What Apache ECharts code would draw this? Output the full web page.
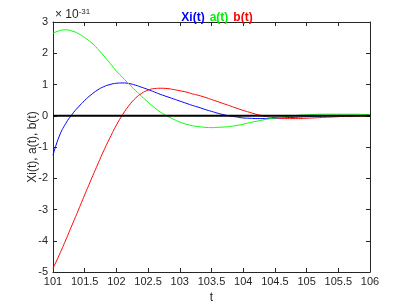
<!DOCTYPE html>
<html><head><meta charset="utf-8">
<script src="https://cdn.jsdelivr.net/npm/echarts@6/dist/echarts.min.js"></script>
<style>html,body{margin:0;padding:0;background:#fff}#c{width:409px;height:306px}</style>
</head><body><div id="c"></div>
<script>
// Data (values in units of 1e-31)
const tValues = [101.0,101.1,101.2,101.3,101.4,101.5,101.6,101.7,101.8,101.9,
  102.0,102.1,102.2,102.3,102.4,102.5,102.6,102.7,102.8,102.9,
  103.0,103.1,103.2,103.3,103.4,103.5,103.6,103.7,103.8,103.9,
  104.0,104.1,104.2,104.3,104.4,104.5,104.6,104.7,104.8,104.9,
  105.0,105.1,105.2,105.3,105.4,105.5,105.6,105.7,105.8,105.9,106.0];
const xiValues = [-1.26,-0.65,-0.25,0.04,0.28,0.49,0.67,0.82,0.93,1.00,
  1.04,1.05,1.03,0.98,0.91,0.84,0.76,0.68,0.61,0.54,
  0.47,0.40,0.33,0.27,0.20,0.14,0.08,0.03,-0.01,-0.04,
  -0.07,-0.08,-0.09,-0.09,-0.09,-0.08,-0.07,-0.06,-0.05,-0.04,
  -0.03,-0.02,-0.01,0.00,0.00,0.01,0.01,0.01,0.01,0.01,0.01];
const aValues = [2.64,2.72,2.75,2.71,2.63,2.50,2.35,2.15,1.92,1.68,
  1.43,1.22,1.01,0.81,0.62,0.43,0.26,0.11,-0.01,-0.11,
  -0.20,-0.27,-0.32,-0.35,-0.37,-0.38,-0.37,-0.36,-0.34,-0.31,
  -0.27,-0.22,-0.18,-0.14,-0.10,-0.07,-0.04,-0.02,0.00,0.02,
  0.03,0.04,0.05,0.05,0.05,0.05,0.05,0.05,0.05,0.04,0.04];
const bValues = [-4.88,-4.45,-3.98,-3.50,-3.02,-2.53,-2.05,-1.58,-1.12,-0.70,
  -0.30,0.04,0.33,0.56,0.72,0.82,0.87,0.88,0.87,0.84,
  0.80,0.76,0.70,0.65,0.59,0.52,0.45,0.38,0.31,0.24,
  0.17,0.11,0.05,0.00,-0.04,-0.06,-0.08,-0.09,-0.09,-0.09,
  -0.08,-0.07,-0.06,-0.05,-0.04,-0.03,-0.02,-0.02,-0.01,-0.01,0.00];
const xTicks = {min:101, max:106, interval:0.5};
const yTicks = {min:-5, max:3, interval:1};
const exponentLabel = '-31';
const axisColor = '#262626';

const pairs = v => tValues.map((t,i)=>[t, v[i]]);
const font = 'Liberation Sans, Arial, sans-serif';
const chart = echarts.init(document.getElementById('c'), null, {renderer:'canvas'});
const grid = {left:53, right:39, top:22, bottom:34, containLabel:false, outerBoundsMode:'none'};
function xAx(pos, show){
  return {type:'value', position:pos, min:xTicks.min, max:xTicks.max, interval:xTicks.interval,
    axisLine:{show:true, onZero:false, lineStyle:{color:axisColor, width:1}},
    axisTick:{show:true, inside:true, length:4, lineStyle:{color:axisColor}},
    axisLabel:{show:show, color:axisColor, fontFamily:font, fontSize:11, margin:4},
    splitLine:{show:false},
    name: show ? 't' : '', nameLocation:'middle', nameGap:20, nameMoveOverlap:false,
    nameTextStyle:{color:axisColor, fontFamily:font, fontSize:12}};
}
function yAx(pos, show){
  return {type:'value', position:pos, min:yTicks.min, max:yTicks.max, interval:yTicks.interval,
    axisLine:{show:true, onZero:false, lineStyle:{color:axisColor, width:1}},
    axisTick:{show:true, inside:true, length:4, lineStyle:{color:axisColor}},
    axisLabel:{show:show, color:axisColor, fontFamily:font, fontSize:11, margin:5},
    splitLine:{show:false},
    name: show ? 'Xi(t), a(t), b(t)' : '', nameLocation:'middle', nameGap:14, nameRotate:90, nameMoveOverlap:false,
    nameTextStyle:{color:axisColor, fontFamily:font, fontSize:12}};
}
const lineSeries = (name, v, color) => ({name, type:'line', data:pairs(v), smooth:true, showSymbol:false,
  lineStyle:{color, width:1}, itemStyle:{color}, z:3, animation:false});
chart.setOption({
  animation:false,
  grid,
  title:{text:'{b|Xi(t)} {g|a(t)} {r|b(t)}', left:212, top:4, textAlign:'center',
    textStyle:{rich:{
      b:{color:'#0000ff', fontWeight:'bold', fontSize:12, fontFamily:font},
      g:{color:'#00ee00', fontWeight:'bold', fontSize:12, fontFamily:font},
      r:{color:'#ff0000', fontWeight:'bold', fontSize:12, fontFamily:font}}}},
  xAxis:[xAx('bottom', true), xAx('top', false)],
  yAxis:[yAx('left', true), yAx('right', false)],
  graphic:[{type:'text', left:55, top:8, style:{
    text:'{a|\u00d7 10}{s|'+exponentLabel+'}', rich:{
      a:{fontSize:12, fontFamily:font, fill:axisColor},
      s:{fontSize:8, fontFamily:font, fill:axisColor, verticalAlign:'top', padding:[0,0,6,0]}}}}],
  series:[
    lineSeries('Xi(t)', xiValues, '#0000ff'),
    lineSeries('a(t)', aValues, '#00ff00'),
    lineSeries('b(t)', bValues, '#ff0000'),
    {type:'line', data:[[xTicks.min,0],[xTicks.max,0]], showSymbol:false,
      lineStyle:{color:'#000', width:2}, z:4, animation:false}
  ]
});
</script></body></html>
